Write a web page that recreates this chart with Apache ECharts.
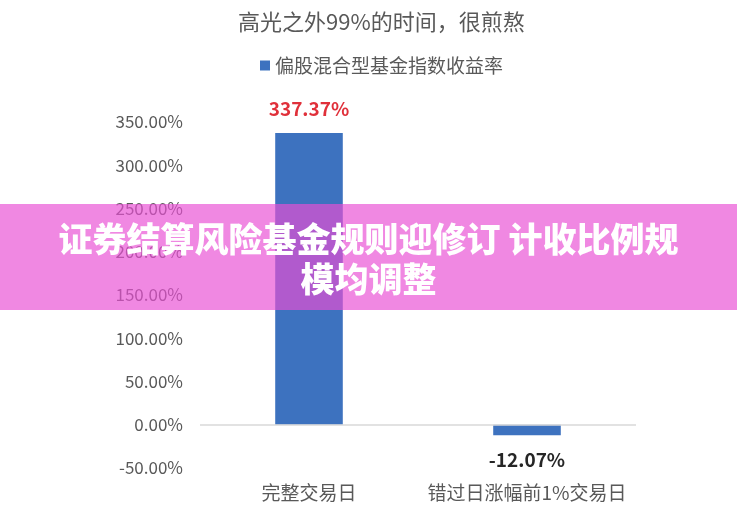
<!DOCTYPE html>
<html>
<head>
<meta charset="utf-8">
<script src="https://cdn.jsdelivr.net/npm/echarts@6/dist/echarts.min.js"></script>
<style>html,body{margin:0;padding:0;background:#fff}#c{width:737px;height:517px}</style>
</head>
<body>
<div id="c"></div>
<script>
const categories = ['完整交易日', '错过日涨幅前1%交易日'];
const seriesName = '偏股混合型基金指数收益率';
const values = [337.37, -12.07];
const labelColors = ['#e0303a', '#262626'];
const titleText = '高光之外99%的时间，很煎熬';
const bannerLines = ['证券结算风险基金规则迎修订 计收比例规', '模均调整'];

const FONT = '"Noto Sans CJK SC", "Noto Sans", sans-serif';
const chart = echarts.init(document.getElementById('c'));
chart.setOption({
  animation: false,
  title: {
    text: titleText, left: 233, top: 6,
    textStyle: { color: '#595959', fontSize: 22, fontWeight: 'normal', fontFamily: FONT }
  },
  legend: {
    data: [seriesName], top: 51, left: 255,
    icon: 'rect', itemWidth: 10, itemHeight: 10, itemGap: 7,
    textStyle: { color: '#595959', fontSize: 19, fontFamily: FONT }
  },
  grid: { left: 200, right: 101, top: 122, bottom: 49, containLabel: false },
  xAxis: {
    type: 'category', data: categories,
    axisLine: { show: false, onZero: false },
    axisTick: { show: false },
    axisLabel: { color: '#595959', fontSize: 19, fontFamily: FONT, margin: 15, interval: 0 }
  },
  yAxis: {
    type: 'value', min: -50, max: 350, interval: 50,
    splitLine: { show: false },
    axisLine: { show: false }, axisTick: { show: false },
    axisLabel: {
      color: '#595959', fontSize: 17, fontFamily: FONT, margin: 17,
      formatter: v => v.toFixed(2) + '%'
    }
  },
  series: [{
    name: seriesName, type: 'bar', barWidth: '31%',
    itemStyle: { color: '#3d72bf' },
    data: values.map((v, i) => ({
      value: v,
      label: {
        show: true, position: v >= 0 ? 'top' : 'bottom', distance: 15,
        color: labelColors[i], fontSize: 19, fontWeight: 'bold', fontFamily: FONT,
        formatter: p => p.value.toFixed(2) + '%'
      }
    })),
    markLine: {
      silent: true, symbol: 'none', label: { show: false },
      lineStyle: { color: '#d9d9d9', type: 'solid', width: 1.5 },
      data: [{ yAxis: 0 }]
    }
  }],
  graphic: [
    { type: 'rect', left: 0, top: 204, z: 100,
      shape: { width: 737, height: 106 },
      style: { fill: 'rgba(233,80,212,0.68)' } },
    { type: 'text', left: 'center', top: 219, z: 101,
      style: { text: bannerLines.join('\n'), fill: '#ffffff', font: '900 34px ' + FONT,
        textAlign: 'center', lineHeight: 40 } }
  ]
});
</script>
</body>
</html>
